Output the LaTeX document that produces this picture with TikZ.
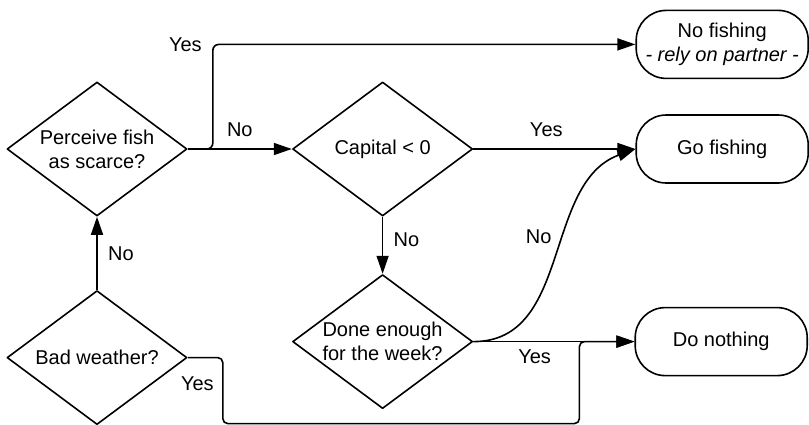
\documentclass[tikz,border=0pt]{standalone}
\usepackage{fontspec}
\setmainfont{Liberation Sans}
\usetikzlibrary{arrows.meta, positioning, shapes.geometric}

\begin{document}
\begin{tikzpicture}[
    x=1pt, y=-1pt,
    font=\fontsize{20}{24}\selectfont,
    line width=1.6pt,
    decision/.style={diamond, aspect=1.34, draw, line join=round, align=center, inner sep=0pt, minimum width=180pt, minimum height=134pt},
    outcome/.style={rectangle, draw, rounded corners=30pt, align=center, inner xsep=0pt, minimum width=172pt, minimum height=68pt},
    arr/.style={-{Triangle[length=18pt, width=12pt]}}
  ]
  \useasboundingbox (0,0) rectangle (809,424);
  \node[decision] (scarce) at (97,149) {Perceive fish\\as scarce?};
  \node[decision, right=104pt of scarce] (capital) {Capital < 0};
  \node[decision, below=57pt of capital] (done) {Done enough\\for the week?};
  \node[decision, below=73pt of scarce] (weather) {Bad weather?};
  \node[outcome, right=162pt of capital] (gofish) {Go fishing};
  \node[outcome, above=35pt of gofish] (nofish) {No fishing\\\textit{- rely on partner -}};
  \node[outcome, right=161pt of done] (nothing) {Do nothing};
  \coordinate[left=55pt of nothing.west] (merge);
  \draw[arr] (weather) -- node[right=7pt] (noweather) {No} (scarce);
  \draw[arr] (scarce) -- node[above=8pt] (noscarce) {No} (capital);
  \draw[arr, rounded corners=6pt] (scarce.east) -- ++(25,0) |- node[pos=0.5, left=7pt] (yesscarce) {Yes} (nofish);
  \draw[arr] (capital) -- node[pos=0.45, above=8pt] (yescapital) {Yes} (gofish);
  \draw[arr] (capital) -- node[pos=0.4, right=7pt] (nocapital) {No} (done);
  \draw[arr] (done.east) to[out=0, in=200] node[pos=0.58, left=9pt] (nodone) {No} (gofish.west);
  \draw[arr] (done) -- node[pos=0.38, below=4pt] (yesdone) {Yes} (nothing);
  \draw[arr, rounded corners=5pt] (weather.east) -- ++(35,0) -- node[pos=0.4, left=5pt] (yesweather) {Yes} ++(0,66) -| (merge) -- (nothing.west);
\end{tikzpicture}
\end{document}
